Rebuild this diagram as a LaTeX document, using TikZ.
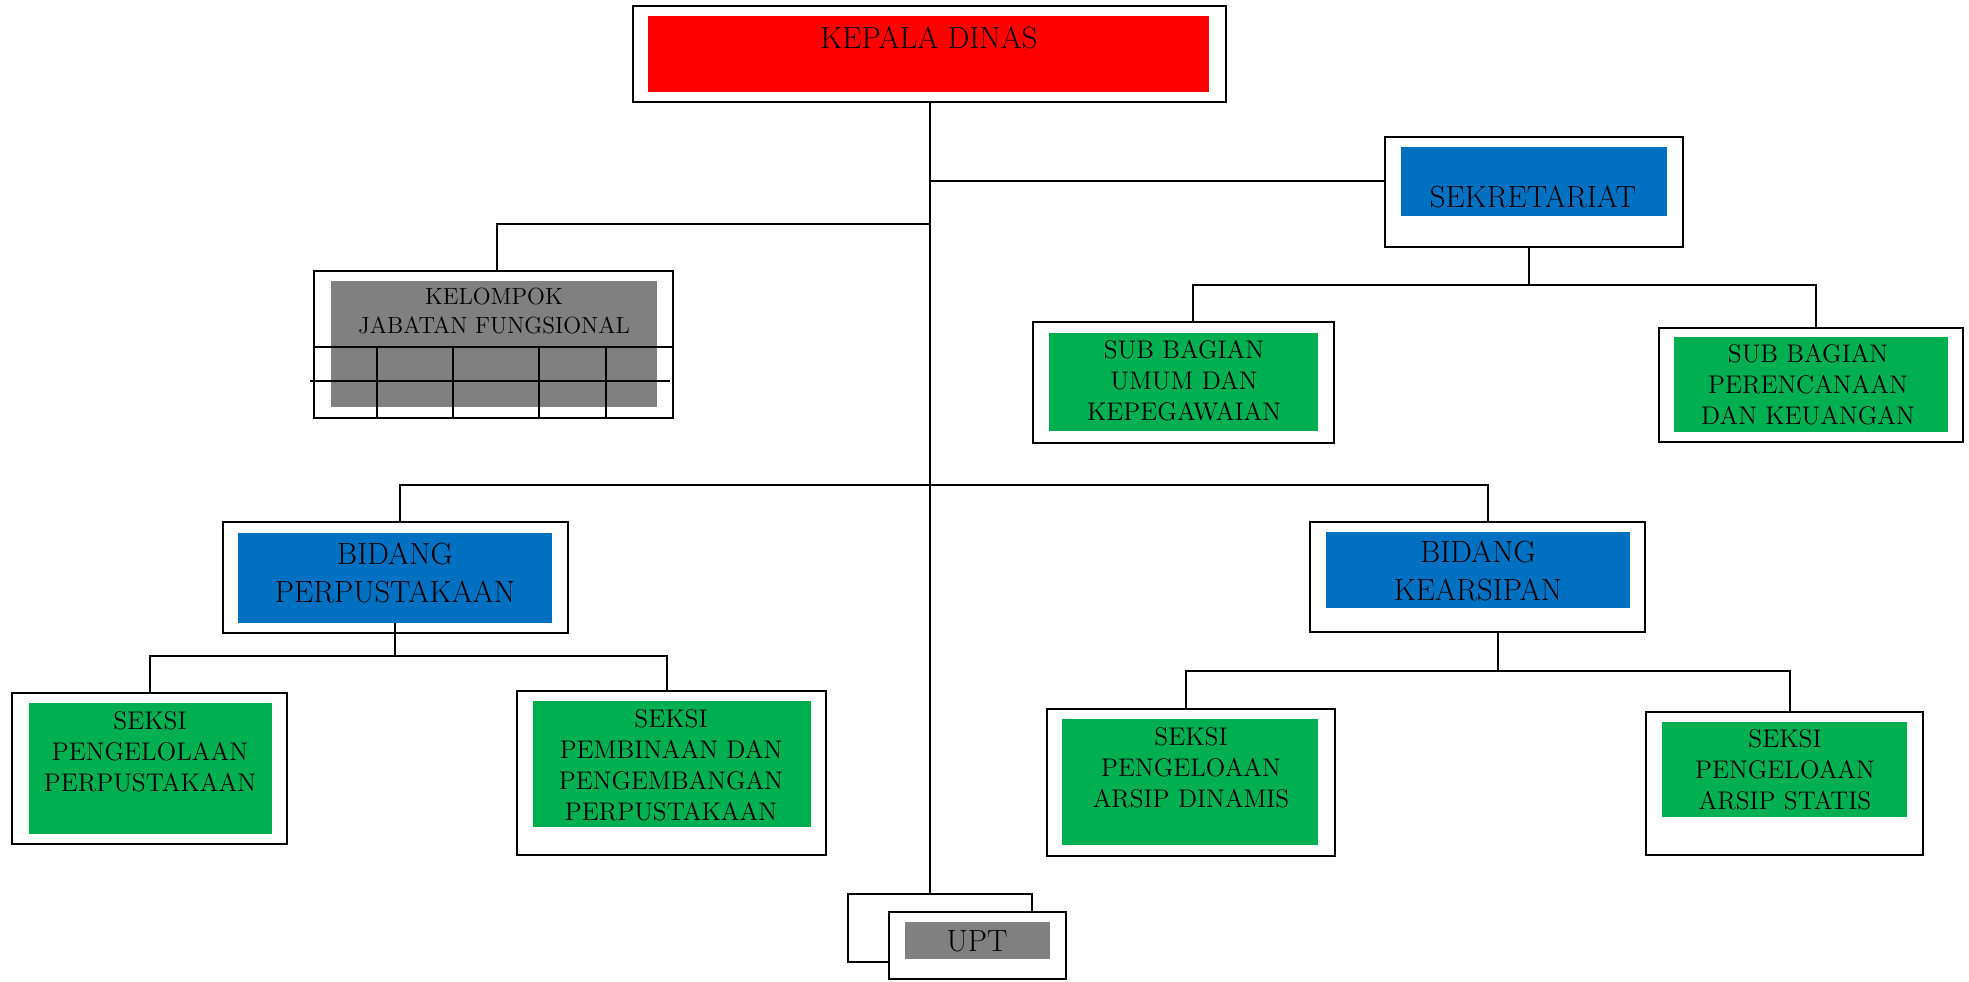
\documentclass[tikz,border=0pt]{standalone}
\usepackage{xcolor}
\usepackage{tikz}
\usetikzlibrary{calc}
\usetikzlibrary{fit}

\definecolor{kepred}{RGB}{255,0,0}
\definecolor{bidblue}{RGB}{0,112,192}
\definecolor{seksgreen}{RGB}{0,176,80}
\definecolor{klpgray}{RGB}{128,128,128}

\begin{document}
\begin{tikzpicture}[
    x = .5pt,
    y = -.5pt,
    outerf/.style = {
      rectangle,
      draw=black,
      fill=white,
      line width=1.2pt,
      inner sep=0pt,
      outer sep=0pt
    },
    redf/.style = {
      rectangle,
      fill=kepred,
      inner sep=0pt
    },
    bluef/.style = {
      rectangle,
      fill=bidblue,
      inner sep=0pt
    },
    greenf/.style = {
      rectangle,
      fill=seksgreen,
      inner sep=0pt
    },
    grayf/.style = {
      rectangle,
      fill=klpgray,
      inner sep=0pt
    },
    labelb/.style = {
      align=center,
      inner sep=0pt,
      font=\fontsize{15.3}{19}\selectfont
    },
    labelm/.style = {
      align=center,
      inner sep=0pt,
      font=\fontsize{12.75}{15.5}\selectfont
    },
    labels/.style = {
      align=center,
      inner sep=0pt,
      font=\fontsize{11.7}{14.5}\selectfont
    },
    linkf/.style = {
      line width=1pt
    }
  ]
    \useasboundingbox (0,0) rectangle (1969,981);

    % kepala dinas
    \node[outerf, fit={(633,6) (1226,102)}] (kepala) {};
    \node[redf, fit={(648,16) (1209,92)}] (kepalain) {};
    \node[labelb] (kepalat) at (929,38) {KEPALA DINAS};

    % sekretariat
    \node[outerf, fit={(1385,137) (1683,247)}] (sekr) {};
    \node[bluef, fit={(1401,147) (1667,216)}] (sekrin) {};
    \node[labelb] (sekrt) at (1533,197) {SEKRETARIAT};

    % kelompok jabatan fungsional
    \node[outerf, fit={(314,271) (673,418)}] (klp) {};
    \node[grayf, fit={(331,281) (657,407)}] (klpin) {};
    \node[labels] (klpt) at (494,311) {KELOMPOK\\JABATAN FUNGSIONAL};
    \draw[linkf] (313,347) -- (672,347);
    \draw[linkf] (310,381) -- (670,381);
    \foreach \x in {377,453,539,606}
      \draw[linkf] (\x,347) -- (\x,419);

    % sub bagian
    \node[outerf, fit={(1033,322) (1334,443)}] (subum) {};
    \node[greenf, fit={(1049,333) (1318,431)}] (subumin) {};
    \node[labelm] (subumt) at (1184,381) {SUB BAGIAN\\UMUM DAN\\KEPEGAWAIAN};
    \node[outerf, fit={(1659,328) (1963,442)}] (subren) {};
    \node[greenf, fit={(1674,337) (1948,432)}] (subrenin) {};
    \node[labelm] (subrent) at (1808,385) {SUB BAGIAN\\PERENCANAAN\\DAN KEUANGAN};

    % bidang
    \node[outerf, fit={(223,522) (568,633)}] (bidp) {};
    \node[bluef, fit={(238,533) (552,623)}] (bidpin) {};
    \node[labelb] (bidpt) at (395,573) {BIDANG\\PERPUSTAKAAN};
    \node[outerf, fit={(1310,522) (1645,632)}] (bidk) {};
    \node[bluef, fit={(1326,532) (1630,608)}] (bidkin) {};
    \node[labelb] (bidkt) at (1478,571) {BIDANG\\KEARSIPAN};

    % seksi
    \node[outerf, fit={(12,693) (287,844)}] (seksa) {};
    \node[greenf, fit={(29,703) (272,834)}] (seksain) {};
    \node[labelm] (seksat) at (150,752) {SEKSI\\PENGELOLAAN\\PERPUSTAKAAN};
    \node[outerf, fit={(517,691) (826,855)}] (seksb) {};
    \node[greenf, fit={(533,701) (811,827)}] (seksbin) {};
    \node[labelm] (seksbt) at (671,765) {SEKSI\\PEMBINAAN DAN\\PENGEMBANGAN\\PERPUSTAKAAN};
    \node[outerf, fit={(1047,709) (1335,856)}] (seksc) {};
    \node[greenf, fit={(1062,719) (1318,845)}] (sekscin) {};
    \node[labelm] (seksct) at (1191,768) {SEKSI\\PENGELOAAN\\ARSIP DINAMIS};
    \node[outerf, fit={(1646,712) (1923,855)}] (seksd) {};
    \node[greenf, fit={(1662,722) (1907,817)}] (seksdin) {};
    \node[labelm] (seksdt) at (1785,770) {SEKSI\\PENGELOAAN\\ARSIP STATIS};

    % upt
    \node[outerf, fit={(848,894) (1032,962)}] (uptb) {};
    \node[outerf, fit={(889,912) (1066,979)}] (upt) {};
    \node[grayf, fit={(905,922) (1050,959)}] (uptin) {};
    \node[labelb] (uptt) at (977,941) {UPT};

    % connectors
    \coordinate (jsekr) at (929,181);
    \coordinate (jklp) at (929,224);
    \coordinate (jbid) at (929,485);
    \coordinate (jsub) at (1529,285);
    \coordinate (jseksp) at (394,656);
    \coordinate (jseksk) at (1498,671);

    \draw[linkf] (kepala.south) -- (kepala.south |- uptb.north);
    \draw[linkf] (jsekr) -- (jsekr -| sekr.west);
    \draw[linkf] (jklp) -| ($(klp.north)+(3.5,0)$);
    \draw[linkf] ($(bidp.north)+(4.5,0)$) |- (jbid) -| ($(bidk.north)+(10.5,0)$);
    \draw[linkf] (sekr.south -| jsub) -- (jsub);
    \draw[linkf] ($(subum.north)+(9.5,0)$) |- (jsub) -| ($(subren.north)+(5,0)$);
    \draw[linkf] (bidpin.south) -- (bidpin.south |- jseksp);
    \draw[linkf] (seksa.north) |- (jseksp) -| ($(seksb.north)+(-4.5,0)$);
    \draw[linkf] (bidk.south -| jseksk) -- (jseksk);
    \draw[linkf] ($(seksc.north)+(-5,0)$) |- (jseksk) -| ($(seksd.north)+(5.5,0)$);
  \end{tikzpicture}
\end{document}
